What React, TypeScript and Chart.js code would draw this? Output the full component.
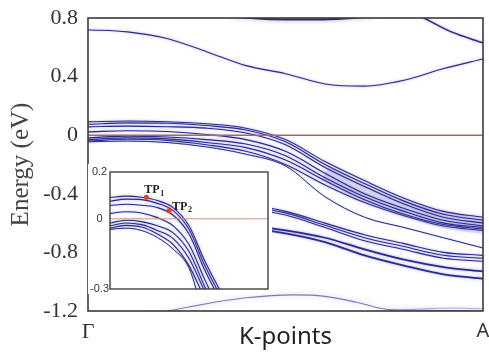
import React, { useEffect, useRef } from 'react';
import { Chart, registerables } from 'chart.js';

Chart.register(...registerables);

// ---------- data (k along Γ→A, normalised 0..1; energies in eV) ----------
const kValence = [0, 0.1, 0.2, 0.3, 0.4, 0.5, 0.6, 0.7, 0.8, 0.9, 1];
const valence1 = [0.091, 0.097, 0.092, 0.078, 0.048, -0.03, -0.18, -0.31, -0.43, -0.52, -0.56];
const valence2 = [0.075, 0.084, 0.082, 0.066, 0.035, -0.045, -0.2, -0.33, -0.45, -0.54, -0.58];
const valence3 = [0.057, 0.062, 0.058, 0.048, 0.015, -0.065, -0.22, -0.35, -0.47, -0.56, -0.6];
const valence4 = [0.023, 0.03, 0.025, 0.005, -0.03, -0.11, -0.26, -0.4, -0.5, -0.58, -0.62];
const valence5 = [-0.018, -0.006, -0.012, -0.03, -0.06, -0.14, -0.29, -0.42, -0.52, -0.6, -0.63];
const valence6 = [-0.03, -0.018, -0.025, -0.05, -0.085, -0.17, -0.31, -0.44, -0.54, -0.61, -0.64];
const valence7 = [-0.04, -0.028, -0.035, -0.065, -0.11, -0.2, -0.34, -0.46, -0.55, -0.62, -0.65];
const valence8 = [-0.045, -0.04, -0.05, -0.08, -0.13, -0.21, -0.42, -0.56, -0.63, -0.7, -0.77];

const kLower = [0.1, 0.2, 0.3, 0.4, 0.5, 0.6, 0.7, 0.8, 0.9, 1];
const lower1 = [-0.44, -0.45, -0.46, -0.475, -0.52, -0.6, -0.68, -0.74, -0.8, -0.82];
const lower2 = [-0.45, -0.46, -0.47, -0.485, -0.53, -0.615, -0.7, -0.76, -0.82, -0.84];
const lower3 = [-0.46, -0.47, -0.48, -0.5, -0.545, -0.63, -0.72, -0.78, -0.84, -0.86];
const lower4 = [-0.58, -0.59, -0.6, -0.615, -0.65, -0.7, -0.78, -0.85, -0.9, -0.93];
const lower5 = [-0.6, -0.61, -0.62, -0.635, -0.67, -0.73, -0.82, -0.89, -0.95, -0.98];

const kCond1 = [0, 0.1, 0.2, 0.3, 0.4, 0.5, 0.6, 0.7, 0.8, 0.9, 1];
const cond1 = [0.72, 0.705, 0.66, 0.57, 0.475, 0.42, 0.35, 0.335, 0.375, 0.455, 0.52];
const kCond2 = [0.3, 0.36, 0.42, 0.5, 0.58, 0.65, 0.72, 0.78];
const cond2 = [0.86, 0.815, 0.798, 0.79, 0.79, 0.797, 0.815, 0.85];
const kCond3 = [0.78, 0.85, 0.92, 1];
const cond3 = [0.88, 0.8, 0.705, 0.63];

const kDeep = [0.15, 0.3, 0.4, 0.52, 0.6, 0.68, 0.76, 0.85, 1];
const deep1 = [-1.23, -1.15, -1.11, -1.09, -1.1, -1.14, -1.19, -1.195, -1.2];
const kDeep2 = [0.76, 0.85, 0.93, 1];
const deep2 = [-1.2, -1.185, -1.18, -1.185];

const kFermi = [0, 1];
const fermi = [0, 0];

const yTicksMain = [0.8, 0.4, 0, -0.4, -0.8, -1.2];
const yTickLabelsMain = ['0.8', '0.4', '0', '-0.4', '-0.8', '-1.2'];
const xTicks = [0, 1];
const xTickLabels = ['Γ', 'A'];
const yTicksInset = [0.2, 0, -0.3];
const yTickLabelsInset = ['0.2', '0', '-0.3'];

const tpK = [0.23, 0.374];
const tpE = [0.092, 0.035];
const tpSub = ['1', '2'];

// ---------- helpers ----------
const BLUE = '#2a2a8e';
const pts = (ks: number[], es: number[]) => ks.map((k, i) => ({ x: k, y: es[i] }));

function band(ks: number[], es: number[], extra: any = {}) {
  return {
    type: 'line',
    data: pts(ks, es),
    borderColor: BLUE,
    borderWidth: 1.1,
    pointRadius: 0,
    pointHoverRadius: 0,
    fill: false,
    cubicInterpolationMode: 'monotone',
    glow: 2.5,
    ...extra,
  };
}

const glowPlugin = {
  id: 'glow',
  beforeDatasetDraw(chart: any, args: any) {
    const ds = chart.data.datasets[args.index];
    chart.ctx.save();
    if (ds.glow) {
      chart.ctx.shadowColor = ds.glowColor || 'rgba(100,100,210,0.6)';
      chart.ctx.shadowBlur = ds.glow;
    }
  },
  afterDatasetDraw(chart: any) {
    chart.ctx.restore();
  },
};

const boxPlugin = {
  id: 'box',
  afterDatasetsDraw(chart: any, _a: any, opts: any) {
    const { ctx, chartArea: a } = chart;
    ctx.save();
    ctx.strokeStyle = opts.color || '#333';
    ctx.lineWidth = opts.width || 1.5;
    ctx.strokeRect(a.left, a.top, a.right - a.left, a.bottom - a.top);
    ctx.restore();
  },
};

const whiteBg = {
  id: 'whiteBg',
  beforeDraw(chart: any) {
    const { ctx, width, height } = chart;
    ctx.save();
    ctx.fillStyle = '#fff';
    ctx.fillRect(0, 0, width, height);
    ctx.restore();
  },
};

const tpLabelPlugin = {
  id: 'tpLabels',
  afterDatasetsDraw(chart: any) {
    const { ctx, scales } = chart;
    ctx.save();
    ctx.fillStyle = '#222';
    ctx.textBaseline = 'alphabetic';
    tpK.forEach((k, i) => {
      const px = scales.x.getPixelForValue(k);
      const py = scales.y.getPixelForValue(tpE[i]);
      const lx = i === 0 ? px - 2 : px + 3;
      const ly = i === 0 ? py - 4 : py - 1;
      ctx.font = 'bold 12px "Liberation Serif"';
      ctx.textAlign = 'left';
      ctx.fillText('TP', lx, ly);
      const w = ctx.measureText('TP').width;
      ctx.font = 'bold 8px "Liberation Serif"';
      ctx.fillText(tpSub[i], lx + w + 0.5, ly + 2.5);
    });
    ctx.restore();
  },
};

function valenceSets() {
  return [
    band(kValence, valence1),
    band(kValence, valence2),
    band(kValence, valence3),
    band(kValence, valence4),
    band(kValence, valence5),
    band(kValence, valence6),
    band(kValence, valence7),
    band(kValence, valence8, { borderWidth: 1, glow: 1.5 }),
  ];
}

export default function App() {
  const mainRef = useRef<HTMLCanvasElement>(null);
  const insetRef = useRef<HTMLCanvasElement>(null);

  useEffect(() => {
    const haze = {
      ...band(kValence, valence4, { borderWidth: 16, glow: 6, glowColor: 'rgba(120,120,200,0.5)' }),
      segment: {
        borderColor: (c: any) =>
          c.p0.parsed.x >= 0.6 ? 'rgba(115,115,190,0.2)' : 'rgba(0,0,0,0)',
      },
    };
    const main = new Chart(mainRef.current!, {
      type: 'line',
      data: {
        datasets: [
          band(kFermi, fermi, { borderColor: '#a8685a', borderWidth: 1.6, glow: 0, cubicInterpolationMode: 'default' }),
          ...valenceSets(),
          band(kLower, lower1),
          band(kLower, lower2),
          band(kLower, lower3),
          band(kLower, lower4, { borderWidth: 1.8, glow: 3 }),
          band(kLower, lower5, { borderWidth: 1.8, glow: 3 }),
          band(kCond1, cond1),
          band(kCond2, cond2, { borderWidth: 2, glow: 4 }),
          band(kCond3, cond3, { borderWidth: 1.5 }),
          band(kDeep, deep1, { borderColor: 'rgba(70,70,165,0.7)', borderWidth: 1.1, glow: 5 }),
          band(kDeep2, deep2, { borderColor: 'rgba(90,90,175,0.45)', borderWidth: 1, glow: 4 }),
          haze,
        ] as any,
      },
      options: {
        responsive: false,
        animation: false,
        events: [],
        layout: { padding: { left: 0, top: 18, right: 6, bottom: 0 } },
        plugins: { legend: { display: false }, tooltip: { enabled: false }, box: { color: '#3a3a3a', width: 1.6 } } as any,
        scales: {
          x: {
            type: 'linear',
            min: 0,
            max: 1,
            afterBuildTicks: (s: any) => {
              s.ticks = xTicks.map((v) => ({ value: v }));
            },
            ticks: {
              callback: (_v: any, i: number) => xTickLabels[i],
              font: (c: any) =>
                c.index === 0
                  ? { family: '"Liberation Serif"', size: 22 }
                  : { family: '"Noto Sans"', size: 20 },
              color: '#333',
              padding: 8,
              maxRotation: 0,
              autoSkip: false,
            },
            grid: { display: false, drawTicks: false },
            border: { display: false },
            title: {
              display: true,
              text: 'K-points',
              font: { family: '"Noto Sans"', size: 24 },
              color: '#222',
              padding: { top: 0, bottom: 1 },
            },
            afterFit: (s: any) => {
              s.height = 42;
              s.paddingLeft = 0;
              s.paddingRight = 0;
            },
          },
          y: {
            type: 'linear',
            min: -1.2,
            max: 0.8,
            afterBuildTicks: (s: any) => {
              s.ticks = yTicksMain.map((v) => ({ value: v }));
            },
            ticks: {
              callback: (_v: any, i: number) => yTickLabelsMain[i],
              font: { family: '"Liberation Serif"', size: 22 },
              color: '#333',
              padding: 10,
            },
            grid: { display: false, drawTicks: false },
            border: { display: false },
            title: {
              display: true,
              text: 'Energy (eV)',
              font: { family: '"Liberation Serif"', size: 25 },
              color: '#444',
              padding: { top: 6, bottom: 0 },
            },
            afterFit: (s: any) => {
              s.width = 88;
              s.paddingTop = 0;
              s.paddingBottom = 0;
            },
          },
        },
      },
      plugins: [glowPlugin, boxPlugin],
    });

    const inset = new Chart(insetRef.current!, {
      type: 'line',
      data: {
        datasets: [
          {
            type: 'scatter',
            data: pts(tpK, tpE),
            pointRadius: 2.6,
            pointBackgroundColor: '#e8401e',
            pointBorderWidth: 0,
            showLine: false,
          },
          band(kFermi, fermi, { borderColor: '#cf8f80', borderWidth: 1, glow: 0, cubicInterpolationMode: 'default' }),
          ...valenceSets(),
        ] as any,
      },
      options: {
        responsive: false,
        animation: false,
        events: [],
        layout: { padding: { left: 0, top: 8, right: 3, bottom: 5 } },
        plugins: { legend: { display: false }, tooltip: { enabled: false }, box: { color: '#333', width: 1.3 } } as any,
        scales: {
          x: { type: 'linear', min: 0, max: 1, display: false },
          y: {
            type: 'linear',
            min: -0.3,
            max: 0.2,
            afterBuildTicks: (s: any) => {
              s.ticks = yTicksInset.map((v) => ({ value: v }));
            },
            ticks: {
              callback: (_v: any, i: number) => yTickLabelsInset[i],
              font: { family: '"Liberation Sans"', size: 11 },
              color: '#333',
              padding: 1,
              crossAlign: 'center',
            },
            grid: { display: false, drawTicks: false },
            border: { display: false },
            afterFit: (s: any) => {
              s.width = 22;
              s.paddingTop = 0;
              s.paddingBottom = 0;
            },
          },
        },
      },
      plugins: [whiteBg, glowPlugin, boxPlugin, tpLabelPlugin],
    });

    return () => {
      main.destroy();
      inset.destroy();
    };
  }, []);

  return (
    <div style={{ position: 'fixed', left: 0, top: 0, width: 489, height: 353, background: '#fff' }}>
      <canvas ref={mainRef} width={489} height={353} style={{ position: 'absolute', left: 0, top: 0 }} />
      <canvas ref={insetRef} width={184} height={130} style={{ position: 'absolute', left: 88, top: 164 }} />
    </div>
  );
}
